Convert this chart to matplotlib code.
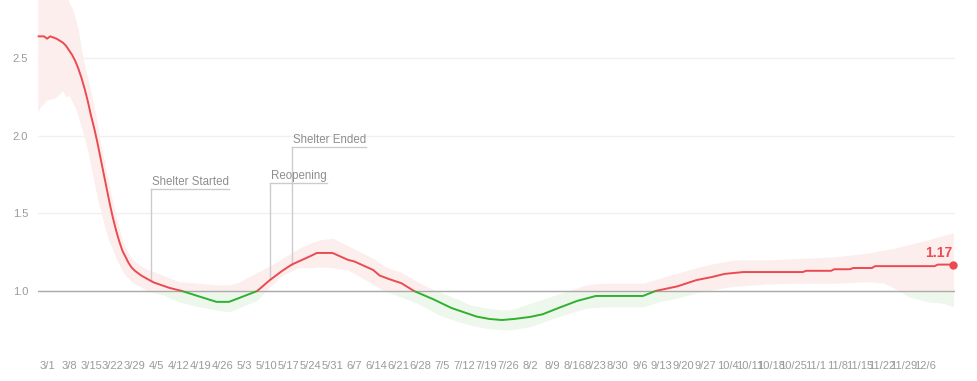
import numpy as np
import pandas as pd
import matplotlib
matplotlib.use("Agg")
import matplotlib.pyplot as plt
from matplotlib.patches import Rectangle
import matplotlib.dates as mdates

plt.rcParams["font.family"] = ["Liberation Sans", "DejaVu Sans"]

# -- Data (days counted from 2020-03-01) --
START = pd.Timestamp("2020-03-01")

line_day = [-3, -1, 0, 1, 3, 5, 6, 7,
            8, 9, 10, 11, 12, 13, 14, 15, 16, 17, 18, 19, 20, 21, 22, 23, 24, 25, 26, 27, 28,
            30, 32, 34, 39, 43, 48, 54, 58, 61,
            67, 71, 75, 78, 84, 86, 91,
            96, 98, 104, 106, 109, 113, 117, 123, 129, 137, 141, 145, 149,
            154, 158, 163, 169, 175, 190, 194, 201, 207, 212, 216, 222,
            241, 242, 250, 251, 256, 257, 263, 264, 283, 284, 289]
line_rt = [2.64, 2.64, 2.625, 2.64, 2.625, 2.60, 2.58, 2.55,
           2.52, 2.48, 2.43, 2.37, 2.30, 2.22, 2.13, 2.05, 1.96, 1.86, 1.76, 1.66, 1.56, 1.47,
           1.39, 1.32, 1.26, 1.22, 1.18, 1.15, 1.13,
           1.10, 1.077, 1.055, 1.02, 1.0, 0.968, 0.93, 0.93, 0.953,
           1.0, 1.07, 1.13, 1.17, 1.225, 1.245, 1.245,
           1.20, 1.19, 1.135, 1.10, 1.077, 1.05, 1.0, 0.948, 0.89, 0.835, 0.82, 0.813, 0.82,
           0.833, 0.85, 0.89, 0.936, 0.968, 0.968, 1.0, 1.03, 1.07, 1.09, 1.11, 1.122,
           1.122, 1.13, 1.13, 1.14, 1.14, 1.148, 1.148, 1.16, 1.16, 1.17, 1.17]

band_day = [-3, -2, 0, 2, 3, 4, 5, 6, 7,
            8, 9, 10, 11, 12, 13, 14, 15, 16, 17, 18, 19, 20, 21, 22, 23, 24, 25, 26, 27, 28,
            30, 32, 37, 42, 48, 54, 58, 61,
            67, 71, 75, 80, 84, 87, 91,
            96, 100, 104, 108, 113, 117, 121, 125, 130, 135, 140, 145, 148,
            154, 160, 167, 172, 177, 184, 190, 195, 201, 207, 211, 219,
            230, 240, 251, 262, 267, 270, 275, 281, 286, 289]
band_lo = [2.15, 2.19, 2.23, 2.24, 2.25, 2.27, 2.29, 2.25, 2.26,
           2.22, 2.18, 2.12, 2.05, 1.98, 1.90, 1.80, 1.70, 1.60, 1.52, 1.44, 1.37, 1.31,
           1.26, 1.21, 1.17, 1.13, 1.10, 1.08, 1.06, 1.045,
           1.025, 1.0, 0.974, 0.93, 0.90, 0.878, 0.865, 0.89,
           0.94, 1.026, 1.10, 1.15, 1.15, 1.155, 1.15,
           1.135, 1.09, 1.04, 0.995, 0.96, 0.93, 0.89, 0.845, 0.81, 0.78, 0.76, 0.75, 0.75,
           0.77, 0.813, 0.86, 0.89, 0.897, 0.897, 0.897, 0.93, 0.955, 0.987, 1.006, 1.03,
           1.045, 1.05, 1.05, 1.06, 1.05, 1.02, 0.96, 0.93, 0.92, 0.897]
band_hi = [2.95, 2.95, 2.95, 2.95, 2.95, 2.95, 2.95, 2.95, 2.86,
           2.82, 2.76, 2.68, 2.55, 2.45, 2.37, 2.28, 2.19, 2.08, 1.96, 1.86, 1.76, 1.66,
           1.57, 1.48, 1.40, 1.33, 1.28, 1.24, 1.21, 1.19,
           1.16, 1.14, 1.10, 1.06, 1.05, 1.04, 1.04, 1.055,
           1.12, 1.16, 1.21, 1.27, 1.31, 1.33, 1.34,
           1.29, 1.25, 1.21, 1.155, 1.12, 1.07, 1.03, 0.995, 0.955, 0.91, 0.89, 0.878, 0.88,
           0.92, 0.96, 1.006, 1.04, 1.05, 1.05, 1.05, 1.08, 1.115, 1.15, 1.17, 1.2,
           1.2, 1.21, 1.22, 1.245, 1.265, 1.275, 1.30, 1.33, 1.36, 1.375]

tick_labels = ["3/1", "3/8", "3/15", "3/22", "3/29", "4/5", "4/12", "4/19", "4/26",
               "5/3", "5/10", "5/17", "5/24", "5/31", "6/7", "6/14", "6/21", "6/28",
               "7/5", "7/12", "7/19", "7/26", "8/2", "8/9", "8/16", "8/23", "8/30",
               "9/6", "9/13", "9/20", "9/27", "10/4", "10/11", "10/18", "10/25",
               "11/1", "11/8", "11/15", "11/22", "11/29", "12/6"]
y_ticks = [1.0, 1.5, 2.0, 2.5]

event_names = ["Shelter Started", "Reopening", "Shelter Ended"]
event_dates = ["2020-04-03", "2020-05-11", "2020-05-18"]
event_levels = [1.657, 1.695, 1.927]

# -- Style --
RED = "#eb4a50"
GREEN = "#2fb02f"
RED_BAND = "#fdeeee"
GREEN_BAND = "#edf7ec"
GRAY_TXT = "#9a9a9a"
ANN_TXT = "#8e8e8e"
ANN_LINE = "#cccccc"

line_dates = START + pd.to_timedelta(line_day, unit="D")
band_dates = START + pd.to_timedelta(band_day, unit="D")
tick_dates = [pd.Timestamp(2020, int(t.split("/")[0]), int(t.split("/")[1])) for t in tick_labels]

fig = plt.figure(figsize=(9.77, 3.81), dpi=100)
ax = fig.add_axes([38 / 977, (381 - 353.1) / 381, 917 / 977, 341.6 / 381])

x_left = START + pd.Timedelta(days=-2.9)
x_right = START + pd.Timedelta(days=289.5)
ax.set_xlim(x_left, x_right)
ax.set_ylim(0.6, 2.8)

# red above 1, green below 1
x0 = mdates.date2num(x_left) - 1000
for color, band_color, y0, y1 in [(RED, RED_BAND, 1.0, 10.0), (GREEN, GREEN_BAND, -10.0, 1.0)]:
    band = ax.fill_between(band_dates, band_lo, band_hi, color=band_color, lw=0, zorder=1)
    band.set_clip_path(Rectangle((x0, y0), 3000, y1 - y0, transform=ax.transData))
    ln, = ax.plot(line_dates, line_rt, color=color, lw=1.4, zorder=4, solid_capstyle="butt")
    ln.set_clip_path(Rectangle((x0, y0), 3000, y1 - y0, transform=ax.transData))

ax.axhline(1.0, color="#aaaaaa", lw=1, zorder=3)

ax.set_yticks(y_ticks)
ax.set_yticklabels([f"{v:.1f}" for v in y_ticks])
ax.set_xticks(tick_dates)
ax.set_xticklabels(tick_labels)
ax.yaxis.grid(True, color="#f0f0f0", lw=1, zorder=0)
ax.set_axisbelow(True)
ax.tick_params(axis="both", length=0, colors=GRAY_TXT, labelsize=8)
ax.tick_params(axis="x", pad=6)
ax.tick_params(axis="y", pad=7)
for s in ax.spines.values():
    s.set_visible(False)

# last value marker
ax.plot(line_dates[-1], line_rt[-1], "o", color=RED, ms=5, zorder=5, clip_on=False)
ax.annotate(f"{line_rt[-1]:.2f}", xy=(line_dates[-1], line_rt[-1]), xytext=(-0.5, 3.5),
            textcoords="offset points", ha="right", va="bottom", color=RED,
            fontsize=10, fontweight="bold", annotation_clip=False)

# event annotations
texts = []
for name, date, level in zip(event_names, event_dates, event_levels):
    d = pd.Timestamp(date)
    day = (d - START).days
    y_start = np.interp(day, line_day, line_rt)
    ax.plot([d, d], [y_start, level], color=ANN_LINE, lw=1, zorder=2)
    t = ax.annotate(name, xy=(d, level), xytext=(1, 1), textcoords="offset points",
                    ha="left", va="bottom", color=ANN_TXT, fontsize=8.3)
    texts.append((t, d, level))

fig.canvas.draw()
inv = ax.transData.inverted()
for t, d, level in texts:
    bb = t.get_window_extent()
    x_end = inv.transform((bb.x1, 0))[0]
    ax.plot([mdates.date2num(d), x_end], [level, level], color=ANN_LINE, lw=1, zorder=2)

fig.savefig("out.png", dpi=100)
